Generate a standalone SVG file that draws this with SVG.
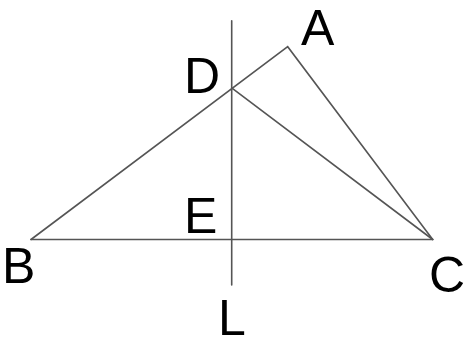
<svg xmlns="http://www.w3.org/2000/svg" width="466" height="340" viewBox="0 0 466 340">
<style>
.l{stroke:#555;stroke-width:1.6;fill:none;stroke-linecap:round}
.t{font-family:"Liberation Sans",Arial,sans-serif;font-size:50px;fill:#000}
</style>
<rect width="466" height="340" fill="#fff"/>
<g id="connectors">
<path class="l" d="M31 239.5 L432.7 239.5"/>
<path class="l" d="M31 239.5 L287.7 46.7 L432.7 239.5"/>
<path class="l" d="M232.3 88.3 L432.7 239.5"/>
<path class="l" d="M231.7 20.7 L231.7 285"/>
</g>
<g id="A"><text class="t" x="301" y="45">A</text></g>
<g id="D"><text class="t" x="184" y="93">D</text></g>
<g id="B"><text class="t" x="2" y="283">B</text></g>
<g id="C"><text class="t" x="429" y="292">C</text></g>
<g id="E"><text class="t" x="184" y="233">E</text></g>
<g id="L"><text class="t" x="218" y="335">L</text></g>
</svg>
